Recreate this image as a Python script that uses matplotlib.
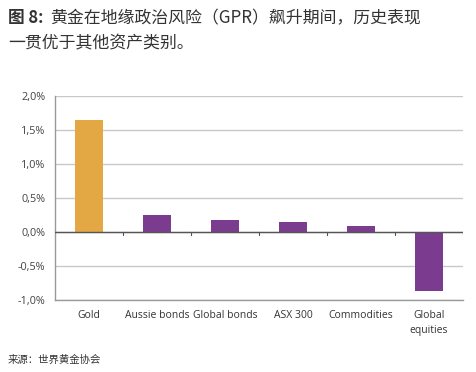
import numpy as np
import matplotlib.pyplot as plt

plt.rcParams['font.family'] = ['Noto Sans CJK SC', 'DejaVu Sans']

categories = ['Gold', 'Aussie bonds', 'Global bonds', 'ASX 300', 'Commodities', 'Global\nequities']
values = [1.65, 0.25, 0.175, 0.15, 0.09, -0.87]
yticks = [-1.0, -0.5, 0.0, 0.5, 1.0, 1.5, 2.0]

gold = '#E3A843'
purple = '#7B3B8E'
colors = [gold] + [purple] * 5

fig = plt.figure(figsize=(4.77, 3.72), dpi=100)
ax = fig.add_axes([55 / 477, 1 - 300 / 372, 408 / 477, 204 / 372])

x = np.arange(len(categories))
ax.bar(x, values, width=0.41, color=colors, zorder=3)

ax.set_xlim(-0.5, len(categories) - 0.5)
ax.set_ylim(-1.0, 2.0)
ax.set_yticks(yticks)
ax.set_yticklabels([('%.1f%%' % v).replace('.', ',') for v in yticks],
                   fontsize=7.8, color='#444444', family='Open Sans')
ax.tick_params(axis='y', length=0, pad=7)
ax.grid(axis='y', color='#c8c8c8', linewidth=1, zorder=0)

ax.set_xticks(x)
ax.set_xticklabels(categories, fontsize=7.5, color='#333333', family='Open Sans',
                   linespacing=1.5, va='top')
ax.tick_params(axis='x', length=0, pad=7)

# zero line with small ticks between categories
ax.axhline(0, color='#555555', linewidth=1, zorder=4)
for b in np.arange(0.5, len(categories) - 0.5, 1.0):
    ax.plot([b, b], [0, -0.04], color='#555555', linewidth=0.8, zorder=4)
ax.plot([len(categories) - 0.5] * 2, [0, -0.04], color='#555555', linewidth=0.8, zorder=4)

for s in ['top', 'right']:
    ax.spines[s].set_visible(False)
ax.spines['left'].set_color('#999999')
ax.spines['bottom'].set_color('#999999')
ax.spines['left'].set_linewidth(1)
ax.spines['bottom'].set_linewidth(1)

fig.text(8 / 477, 1 - 18 / 372, '图 8:', fontsize=12, fontweight='bold',
         color='#333333', va='center')
fig.text(50 / 477, 1 - 18 / 372, '黄金在地缘政治风险（GPR）飙升期间，历史表现',
         fontsize=12.2, color='#333333', va='center')
fig.text(8 / 477, 1 - 43 / 372, '一贯优于其他资产类别。',
         fontsize=12.2, color='#333333', va='center')
fig.text(8 / 477, 1 - 360 / 372, '来源：世界黄金协会', fontsize=7.5,
         color='#333333', va='center')

fig.savefig('out.png', dpi=100)
